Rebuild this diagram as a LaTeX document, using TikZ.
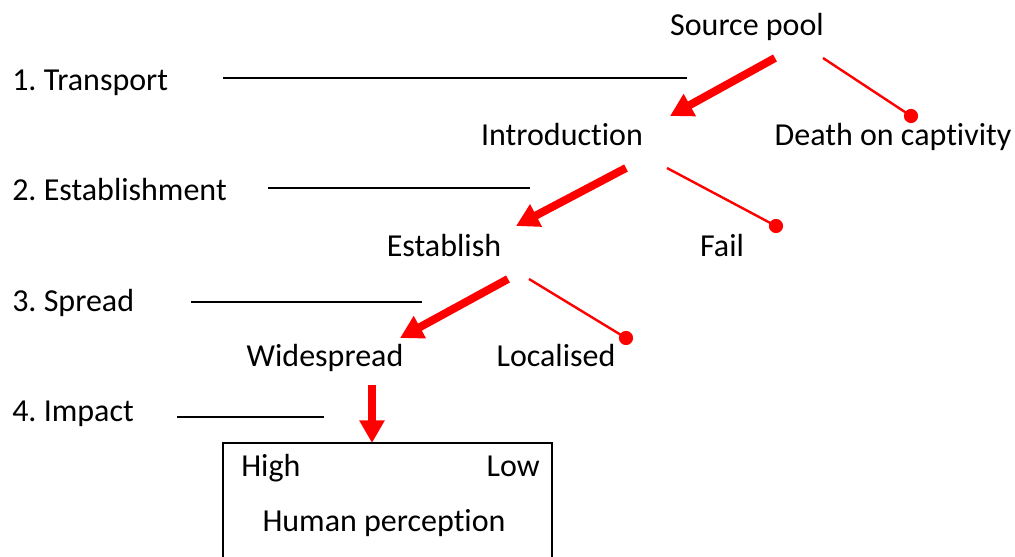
\documentclass[tikz,border=0pt]{standalone}
\usepackage{fontspec}
\setmainfont[Ligatures={NoCommon}]{Carlito}
\frenchspacing
\usetikzlibrary{arrows.meta}
\definecolor{rd}{RGB}{255,0,0}
\tikzset{
  lbl/.style={inner sep=0pt, font=\fontsize{24}{28}\selectfont, anchor=base},
  stagelbl/.style={lbl, anchor=base west},
  guide/.style={draw=black, line width=1.5pt},
  goarrow/.style={draw=rd, line width=6pt, -{Triangle[length=17pt,width=18pt]}},
  faill/.style={draw=rd, line width=1.8pt},
}
\begin{document}
\begin{tikzpicture}[x=0.75pt,y=-0.75pt]
\useasboundingbox (0,0) rectangle (1015,557);
% stage labels
\node[stagelbl] (s1) at (12,90) {1. Transport};
\node[stagelbl] (s2) at (12,200) {2. Establishment};
\node[stagelbl] (s3) at (12,311) {3. Spread};
\node[stagelbl] (s4) at (12,421) {4. Impact};
% guide lines
\coordinate (g1a) at (223,78);  \coordinate (g1b) at (687,78);
\coordinate (g2a) at (268,188); \coordinate (g2b) at (530,188);
\coordinate (g3a) at (191,302); \coordinate (g3b) at (422,302);
\coordinate (g4a) at (177,417); \coordinate (g4b) at (324,417);
\draw[guide] (g1a) -- (g1b);
\draw[guide] (g2a) -- (g2b);
\draw[guide] (g3a) -- (g3b);
\draw[guide] (g4a) -- (g4b);
% outcome labels
\node[lbl] (src) at (747,35) {Source pool};
\node[lbl] (intro) at (562,145) {Introduction};
\node[lbl] (death) at (893,145) {Death on captivity};
\node[lbl] (est) at (444,256) {Establish};
\node[lbl] (fail) at (722,256) {Fail};
\node[lbl] (wide) at (325,366) {Widespread};
\node[lbl] (loc) at (556,366) {Localised};
% box
\coordinate (bxtl) at (223,443);
\coordinate (bxtr) at (552,443);
\coordinate (bxbl) at (223,557);
\coordinate (bxbr) at (552,557);
\draw[line width=1.5pt] (bxbl) -- (bxtl) -- (bxtr) -- (bxbr);
\node[lbl, anchor=base west] (high) at (241,476) {High};
\node[lbl, anchor=base east] (low) at (540,476) {Low};
\node[lbl] (hp) at (384,531) {Human perception};
% success arrows
\coordinate (a1s) at (775,58);  \coordinate (a1e) at (670,116);
\coordinate (a2s) at (626,168); \coordinate (a2e) at (516,226);
\coordinate (a3s) at (508,279); \coordinate (a3e) at (400,338);
\coordinate (a4s) at (372,385); \coordinate (a4e) at (372,443);
\draw[goarrow] (a1s) -- (a1e);
\draw[goarrow] (a2s) -- (a2e);
\draw[goarrow] (a3s) -- (a3e);
\draw[goarrow] (a4s) -- (a4e);
% failure lines
\coordinate (f1s) at (823,58);  \coordinate (f1e) at (911,116);
\coordinate (f2s) at (667,168); \coordinate (f2e) at (776,226);
\coordinate (f3s) at (529,279); \coordinate (f3e) at (626,338);
\draw[faill] (f1s) -- (f1e);
\draw[faill] (f2s) -- (f2e);
\draw[faill] (f3s) -- (f3e);
\fill[rd] (f1e) circle (5.3pt);
\fill[rd] (f2e) circle (5.3pt);
\fill[rd] (f3e) circle (5.3pt);
\end{tikzpicture}
\end{document}
